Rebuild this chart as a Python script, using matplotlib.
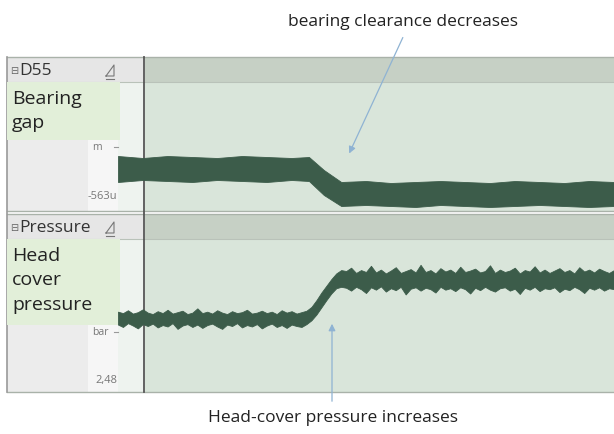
import matplotlib
matplotlib.use('Agg')
import matplotlib.pyplot as plt
from matplotlib.patches import Rectangle
import numpy as np

plt.rcParams['font.family'] = ['Open Sans', 'DejaVu Sans']

# bearing gap envelope (um)
gap_t = [0, 5, 10, 15, 20, 25, 30, 35, 38.5, 41.5, 45, 50, 55, 60, 65, 70, 75, 80, 85, 90, 95, 100]
gap_hi = [-508, -510, -508, -509, -510, -508, -509, -510, -509, -522, -534, -533,
          -535, -534, -533, -534, -535, -533, -534, -535, -533, -534]
gap_lo = [-534, -532, -533, -534, -532, -533, -534, -532, -533, -547, -558, -557,
          -558, -559, -557, -558, -559, -558, -557, -558, -559, -558]

# head cover pressure envelope (bar), one sample per time unit
p_hi_before = [2.648, 2.645, 2.651, 2.644, 2.647, 2.653, 2.646, 2.643, 2.649, 2.645,
               2.652, 2.644, 2.647, 2.650, 2.643, 2.646, 2.655, 2.645, 2.648, 2.644,
               2.651, 2.646, 2.643, 2.649, 2.645, 2.647, 2.652, 2.644, 2.646, 2.650,
               2.645, 2.648, 2.643, 2.651, 2.646, 2.649, 2.644, 2.647, 2.650]
p_lo_before = [2.621, 2.616, 2.624, 2.619, 2.613, 2.622, 2.618, 2.623, 2.615, 2.620,
               2.617, 2.624, 2.612, 2.619, 2.622, 2.616, 2.621, 2.614, 2.620, 2.623,
               2.617, 2.612, 2.621, 2.618, 2.624, 2.615, 2.620, 2.617, 2.622, 2.613,
               2.619, 2.623, 2.616, 2.620, 2.614, 2.621, 2.618, 2.616, 2.622]
p_hi_rise = [2.658, 2.672, 2.688, 2.702, 2.716, 2.728, 2.735]
p_lo_rise = [2.630, 2.642, 2.657, 2.672, 2.686, 2.697, 2.700]
p_hi_after = [2.733, 2.740, 2.729, 2.735, 2.731, 2.744, 2.730, 2.736, 2.728, 2.734,
              2.741, 2.729, 2.733, 2.737, 2.730, 2.746, 2.731, 2.735, 2.728, 2.739,
              2.732, 2.736, 2.729, 2.742, 2.731, 2.734, 2.738, 2.730, 2.733, 2.745,
              2.729, 2.736, 2.731, 2.734, 2.740, 2.728, 2.735, 2.732, 2.743, 2.730,
              2.736, 2.729, 2.734, 2.739, 2.731, 2.735, 2.728, 2.741, 2.732, 2.736,
              2.730, 2.738, 2.733, 2.729, 2.735]
p_lo_after = [2.698, 2.692, 2.700, 2.695, 2.687, 2.699, 2.694, 2.701, 2.690, 2.697,
              2.693, 2.700, 2.684, 2.696, 2.699, 2.692, 2.698, 2.695, 2.688, 2.700,
              2.694, 2.697, 2.691, 2.699, 2.695, 2.686, 2.698, 2.693, 2.700, 2.694,
              2.690, 2.697, 2.699, 2.692, 2.696, 2.685, 2.698, 2.694, 2.700, 2.691,
              2.697, 2.695, 2.699, 2.689, 2.696, 2.693, 2.700, 2.695, 2.687, 2.698,
              2.694, 2.699, 2.692, 2.697, 2.695]

p_hi = p_hi_before + p_hi_rise + p_hi_after
p_lo = p_lo_before + p_lo_rise + p_lo_after
p_t = np.arange(len(p_hi))

W, H = 614, 435
SIG = '#3c5c4a'
PLOT_BG = '#d9e5da'
HEAD_BG = '#c6d0c5'
LEFT_BG = '#ececec'
LABEL_BG = '#e2efd9'
ARROW = '#8fb3d3'

fig = plt.figure(figsize=(W / 100, H / 100), dpi=100)
bg = fig.add_axes([0, 0, 1, 1])
bg.set_xlim(0, W)
bg.set_ylim(H, 0)
bg.axis('off')


def rect(x0, y0, x1, y1, color, z=1):
    bg.add_patch(Rectangle((x0, y0), x1 - x0, y1 - y0, facecolor=color,
                           edgecolor='none', zorder=z))


def px_axes(x0, y0, x1, y1):
    a = fig.add_axes([x0 / W, 1 - y1 / H, (x1 - x0) / W, (y1 - y0) / H])
    a.patch.set_alpha(0)
    a.axis('off')
    return a


# two panels: header bars and bodies
for top, head_txt, body_bot, lab_bot, lab_txt, unit, unit_y, tick_lab, tick_y in [
        (58, 'D55', 212, 141, 'Bearing\ngap', 'm', 148, '-563u', 197),
        (215, 'Pressure', 393, 326, 'Head\ncover\npressure', 'bar', 333, '2,48', 381)]:
    hb = top + 25
    rect(7, top, 143, hb, '#e6e6e6')
    rect(145, top, W, hb, HEAD_BG)
    rect(7, hb, 88, body_bot, LEFT_BG)
    rect(88, hb, 118, body_bot, '#f6f6f6')
    rect(118, hb, 143, body_bot, '#eef3ef')
    rect(145, hb, W, body_bot, PLOT_BG)
    bg.plot([7, W], [top, top], color='#a9b2a9', lw=1, zorder=2)
    bg.plot([7, W], [hb, hb], color='#b9c2b9', lw=0.8, zorder=2)
    bg.plot([7, W], [body_bot, body_bot], color='#a9b2a9', lw=1, zorder=2)
    bg.text(10, top + 13, '⊟', fontsize=7, color='#666', va='center', zorder=3,
            family=['DejaVu Sans'])
    bg.text(19, top + 13, head_txt, fontsize=12.5, color='#333', va='center', zorder=3)
    # small header icon
    bg.plot([106, 114, 114, 106], [top + 19, top + 8, top + 19, top + 19],
            color='#777', lw=0.8, zorder=3)
    bg.plot([106, 114], [top + 22, top + 22], color='#777', lw=0.8, zorder=3)
    rect(88, unit_y - 6, 118, unit_y + 6, '#f6f6f6', z=2)
    bg.text(92, unit_y, unit, fontsize=7.5, color='#777', va='center', zorder=3)
    bg.plot([114, 118], [unit_y, unit_y], color='#999', lw=0.8, zorder=3)
    bg.text(117, tick_y, tick_lab, fontsize=8, color='#777', va='center',
            ha='right', zorder=3)
    rect(7, hb, 120, lab_bot, LABEL_BG, z=4)
    bg.text(12, hb + 7, lab_txt, fontsize=14, color='#222', va='top',
            linespacing=1.45, zorder=5)

bg.plot([7, 7], [58, 393], color='#9a9a9a', lw=1.2, zorder=3)
bg.plot([144, 144], [58, 393], color='#555', lw=1.3, zorder=6)

# signals
ax1 = px_axes(118, 83, W, 212)
ax1.set_xlim(0, 100)
ax1.set_ylim(-563, -434)
ax1.fill_between(gap_t, gap_lo, gap_hi, color=SIG, lw=0.6, edgecolor=SIG)

ax2 = px_axes(118, 240, W, 393)
ax2.set_xlim(0, 100)
ax2.set_ylim(2.48, 2.80)
ax2.fill_between(p_t, p_lo, p_hi, color=SIG, lw=0.6, edgecolor=SIG)

# annotations
bg.text(403, 22, 'bearing clearance decreases', fontsize=12.5, color='#222',
        ha='center', va='center')
bg.annotate('', xy=(348, 157), xytext=(404, 36),
            arrowprops=dict(arrowstyle='-|>', color=ARROW, lw=0.9,
                            mutation_scale=10), zorder=7)
bg.text(333, 418, 'Head-cover pressure increases', fontsize=12.5, color='#222',
        ha='center', va='center')
bg.annotate('', xy=(332, 322), xytext=(332, 405),
            arrowprops=dict(arrowstyle='-|>', color=ARROW, lw=0.9,
                            mutation_scale=10), zorder=7)

fig.savefig('out.png', dpi=100, facecolor='white')
